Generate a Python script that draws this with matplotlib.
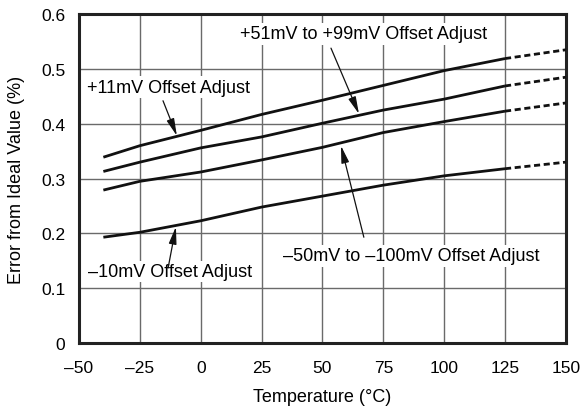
import numpy as np
import matplotlib
matplotlib.use('Agg')
import matplotlib.pyplot as plt

temps = [-40, -25, 0, 25, 50, 75, 100, 125]
temps_ext = [125, 150]

err_p11 = [0.339, 0.360, 0.388, 0.417, 0.443, 0.470, 0.497, 0.519]
err_p51 = [0.313, 0.330, 0.356, 0.376, 0.401, 0.425, 0.445, 0.469]
err_m50 = [0.279, 0.295, 0.312, 0.334, 0.357, 0.384, 0.404, 0.423]
err_m10 = [0.193, 0.202, 0.223, 0.248, 0.268, 0.288, 0.305, 0.318]
ext_end = [0.535, 0.485, 0.438, 0.330]

xticks = [-50, -25, 0, 25, 50, 75, 100, 125, 150]
xticklabels = ['–50', '–25', '0', '25', '50', '75', '100', '125', '150']
yticks = [0, 0.1, 0.2, 0.3, 0.4, 0.5, 0.6]
yticklabels = ['0', '0.1', '0.2', '0.3', '0.4', '0.5', '0.6']

plt.rcParams['font.family'] = ['Liberation Sans', 'DejaVu Sans']
plt.rcParams['font.size'] = 13

fig = plt.figure(figsize=(5.81, 4.10), dpi=100)
ax = fig.add_axes([0.136, 0.161, 0.838, 0.802])

ax.set_xlim(-50, 150)
ax.set_ylim(0, 0.6)
ax.set_xticks(xticks)
ax.set_xticklabels(xticklabels)
ax.set_yticks(yticks)
ax.set_yticklabels(yticklabels)
ax.tick_params(length=0, labelsize=12.5)
ax.tick_params(axis='x', pad=12)
ax.tick_params(axis='y', pad=10)
ax.grid(True, color='#6a6a6a', lw=1.0)
ax.set_axisbelow(True)
for s in ax.spines.values():
    s.set_linewidth(2.2)
    s.set_color('#222222')

for series, end in zip([err_p11, err_p51, err_m50, err_m10], ext_end):
    ax.plot(temps, series, color='#111111', lw=2.0, solid_capstyle='butt', zorder=3)
    ax.plot(temps_ext, [series[-1], end], color='#111111', lw=2.0,
            dashes=(2.2, 1.3), zorder=3)

box = dict(boxstyle='square,pad=0.12', fc='white', ec='none')
arrow = dict(arrowstyle='-|>,head_length=0.8,head_width=0.18', color='#111111',
             lw=0.9, shrinkA=0, shrinkB=0)

# labels
ax.text(-46.7, 0.467, '+11mV Offset Adjust', ha='left', va='center', bbox=box, zorder=4)
ax.text(16.1, 0.564, '+51mV to +99mV Offset Adjust', ha='left', va='center', bbox=box, zorder=4)
ax.text(33.8, 0.159, '–50mV to –100mV Offset Adjust', ha='left', va='center', bbox=box, zorder=4)
ax.text(-46.3, 0.130, '–10mV Offset Adjust', ha='left', va='center', bbox=box, zorder=4)

# arrows
ax.annotate('', xy=(-9.8, 0.378), xytext=(-15.5, 0.442), arrowprops=arrow, zorder=5)
ax.annotate('', xy=(65, 0.418), xytext=(53.5, 0.538), arrowprops=arrow, zorder=5)
ax.annotate('', xy=(57.6, 0.360), xytext=(67, 0.193), arrowprops=arrow, zorder=5)
ax.annotate('', xy=(-10.2, 0.212), xytext=(-13.4, 0.137), arrowprops=arrow, zorder=5)

ax.set_xlabel('Temperature (°C)', fontsize=13)
ax.set_ylabel('Error from Ideal Value (%)', fontsize=13)
ax.xaxis.set_label_coords(0.5, -0.137)
ax.yaxis.set_label_coords(-0.111, 0.5)

fig.savefig('out.png', dpi=100)
